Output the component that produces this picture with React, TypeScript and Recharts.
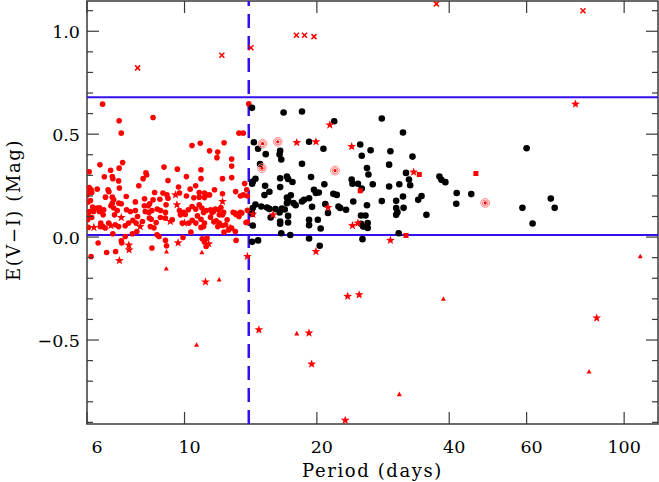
import { ScatterChart, Scatter, XAxis, YAxis, ReferenceLine, ReferenceArea } from 'recharts';

// period (days), E(V-I) (mag)
const xTicks = [6, 10, 20, 40, 60, 100];
const yTicks = [-0.9, -0.8, -0.7, -0.6, -0.5, -0.4, -0.3, -0.2, -0.1, 0, 0.1, 0.2, 0.3, 0.4, 0.5, 0.6, 0.7, 0.8, 0.9, 1.0, 1.1];

const redDots: [number, number][] = [
  [6.51, 0.646], [8.48, 0.581], [7.1, 0.565], [7.18, 0.505], [14.0, 0.647], [13.3, 0.505], [13.6, 0.505],
  [10.4, 0.445], [10.86, 0.456], [12.3, 0.458], [11.4, 0.419], [11.9, 0.413], [11.85, 0.386], [12.8, 0.379],
  [7.23, 0.362], [6.42, 0.351], [8.98, 0.34], [9.63, 0.33], [7.1, 0.335], [6.79, 0.325], [6.07, 0.317],
  [8.17, 0.312], [8.2, 0.302], [10.9, 0.327], [12.8, 0.345], [6.57, 0.293], [6.85, 0.294], [6.87, 0.284],
  [8.05, 0.284], [10.1, 0.294], [9.17, 0.275], [10.9, 0.284], [12.2, 0.284], [12.8, 0.289], [7.08, 0.273],
  [9.69, 0.243], [10.6, 0.249], [6.07, 0.241], [6.13, 0.23], [6.07, 0.217], [6.15, 0.217], [6.0, 0.205],
  [6.33, 0.233], [6.7, 0.23], [6.73, 0.22], [7.11, 0.238], [7.87, 0.249], [8.55, 0.217], [8.93, 0.214],
  [9.12, 0.205], [9.74, 0.214], [10.3, 0.233], [10.8, 0.217], [11.1, 0.214], [11.2, 0.205], [11.7, 0.23],
  [11.4, 0.205], [13.07, 0.221], [13.6, 0.205], [6.61, 0.194], [6.85, 0.194], [6.9, 0.181], [7.37, 0.197],
  [8.11, 0.186], [7.73, 0.171], [8.48, 0.181], [8.79, 0.184], [9.17, 0.189], [10.1, 0.2], [10.5, 0.191],
  [10.8, 0.194], [11.1, 0.192], [12.2, 0.21], [13.4, 0.2], [6.11, 0.178], [6.03, 0.17], [6.18, 0.146],
  [6.33, 0.141], [6.08, 0.124], [6.21, 0.124], [6.06, 0.1], [6.15, 0.095], [6.02, 0.084], [6.41, 0.142],
  [6.4, 0.124], [6.55, 0.133], [6.53, 0.108], [6.8, 0.152], [6.85, 0.165], [6.9, 0.141], [7.09, 0.165],
  [7.18, 0.162], [7.03, 0.129], [6.93, 0.108], [7.38, 0.133], [7.53, 0.124], [7.73, 0.129], [7.82, 0.1],
  [8.1, 0.152], [8.27, 0.152], [8.33, 0.162], [8.14, 0.124], [8.3, 0.12], [8.43, 0.129], [8.32, 0.092],
  [8.4, 0.087], [8.67, 0.136], [8.82, 0.129], [9.05, 0.12], [9.08, 0.157], [9.38, 0.084], [9.74, 0.129],
  [9.95, 0.12], [10.04, 0.11], [10.2, 0.133], [10.4, 0.149], [10.6, 0.136], [10.8, 0.157], [10.95, 0.141],
  [11.05, 0.12], [11.2, 0.129], [11.46, 0.133], [11.55, 0.12], [10.7, 0.103], [10.9, 0.087], [11.1, 0.068],
  [11.75, 0.136], [12.1, 0.144], [12.0, 0.108], [12.2, 0.108], [12.5, 0.084], [12.0, 0.068], [12.2, 0.056],
  [12.9, 0.12], [13.1, 0.11], [13.3, 0.1], [13.5, 0.117],
  [6.04, 0.047], [6.36, -0.029], [6.13, -0.094], [6.65, -0.075], [6.97, -0.07], [7.18, -0.018], [7.2, -0.029],
  [6.87, 0.016], [7.61, 0.016], [7.79, 0.027], [7.33, 0.003], [8.43, -0.053], [8.66, 0.011], [8.75, 0.003],
  [8.36, 0.051], [8.52, 0.045], [9.05, -0.016], [9.1, -0.042], [9.92, -0.002], [10.34, 0.024], [10.9, 0.047],
  [10.97, -0.008], [11.1, -0.024], [11.2, -0.046], [11.8, 0.079], [11.9, 0.051], [12.3, 0.024], [13.05, 0.027],
  [11.64, 0.124], [11.95, 0.133], [12.27, 0.12], [13.04, 0.117], [13.8, 0.071], [12.6, 0.035], [12.8, 0.044],
  [11.05, 0.051], [12.4, 0.06], [13.1, -0.016], [11.25, -0.005],
  [13.7, 0.26], [13.85, 0.23], [13.9, 0.2], [13.4, 0.12], [13.9, 0.13], [13.9, 0.073],
  [6.43, 0.051], [6.52, 0.051], [6.45, 0.068], [6.6, 0.044], [6.72, 0.068], [6.96, 0.06], [7.08, 0.051],
  [7.33, 0.055], [7.46, 0.068], [7.63, 0.081], [7.76, 0.068], [8.02, 0.076], [8.62, 0.071], [8.81, 0.095],
  [9.04, 0.092], [9.79, 0.108], [9.88, 0.068], [10.23, 0.068], [10.41, 0.081], [10.61, 0.068], [11.46, 0.097],
  [11.66, 0.074],
];

const blackDots: [number, number][] = [
  [14.24, 0.628], [16.8, 0.605], [18.5, 0.61], [21.9, 0.563], [28.1, 0.576], [31.4, 0.508], [14.38, 0.461],
  [14.7, 0.429], [16.5, 0.419], [16.45, 0.401], [16.6, 0.377], [15.3, 0.403], [19.2, 0.463], [20.7, 0.429],
  [25.1, 0.45], [25.3, 0.395], [26.5, 0.422], [29.4, 0.417], [33.0, 0.391], [18.5, 0.356], [14.85, 0.355],
  [26.0, 0.336], [26.2, 0.304], [29.2, 0.352], [31.9, 0.312], [32.4, 0.28], [32.6, 0.252], [14.5, 0.283],
  [14.3, 0.27], [14.25, 0.259], [16.5, 0.286], [17.1, 0.294], [17.2, 0.282], [17.6, 0.268], [19.4, 0.292],
  [24.0, 0.28], [24.1, 0.259], [24.8, 0.259], [26.8, 0.257], [29.2, 0.246], [30.8, 0.257], [15.25, 0.249],
  [16.5, 0.243], [20.8, 0.257], [25.3, 0.236], [38.0, 0.294], [38.4, 0.278], [39.2, 0.267], [41.6, 0.214],
  [41.5, 0.162], [15.2, 0.204], [15.6, 0.22], [17.1, 0.192], [17.45, 0.203], [19.7, 0.23], [19.9, 0.214],
  [20.2, 0.217], [21.8, 0.21], [22.2, 0.205], [31.4, 0.197], [30.3, 0.176], [34.6, 0.2], [34.0, 0.181],
  [17.2, 0.178], [17.1, 0.165], [17.7, 0.165], [17.9, 0.155], [18.5, 0.173], [18.7, 0.181], [19.2, 0.189],
  [19.5, 0.147], [20.9, 0.16], [21.2, 0.117], [22.4, 0.149], [22.6, 0.141], [23.3, 0.133], [24.2, 0.173],
  [26.0, 0.155], [28.1, 0.175], [30.3, 0.141], [30.5, 0.121], [30.3, 0.108], [31.5, 0.142], [35.5, 0.108],
  [14.5, 0.158], [14.3, 0.141], [14.95, 0.149], [15.4, 0.144], [15.6, 0.137], [16.1, 0.136], [16.45, 0.12],
  [16.65, 0.139], [16.9, 0.134], [15.7, 0.095], [16.5, 0.076], [16.5, 0.065], [17.2, 0.103], [17.2, 0.071],
  [19.2, 0.084], [19.2, 0.058], [20.1, 0.084], [20.4, 0.042], [25.2, 0.105], [25.8, 0.105], [25.2, 0.065],
  [25.5, 0.051], [26.1, 0.044], [26.1, 0.068], [14.3, 0.056], [16.6, 0.019], [17.4, 0.01], [19.2, -0.007],
  [20.3, -0.042], [25.4, -0.01], [30.7, 0.019], [14.25, -0.023], [14.7, -0.016], [14.25, 0.113],
  [60.0, 0.432], [44.9, 0.209], [58.7, 0.142], [61.9, 0.066], [68.1, 0.187], [69.5, 0.142],
];

const stars: [number, number][] = [
  [9.54, 0.205], [9.28, 0.076], [9.61, 0.157], [10.0, 0.068], [12.2, 0.173], [12.7, 0.045], [6.22, 0.047],
  [6.8, 0.056], [7.18, 0.095], [7.93, 0.051], [7.47, -0.039], [7.48, -0.062], [7.11, -0.114], [9.67, -0.028],
  [11.35, -0.033], [13.9, -0.094], [11.16, -0.218], [14.76, -0.45], [19.19, -0.466], [19.46, -0.617],
  [23.5, -0.288], [24.96, -0.28], [23.2, -0.89], [86.6, -0.393], [19.9, -0.07], [21.4, 0.545], [18.0, 0.459],
  [19.9, 0.463], [24.0, 0.44], [33.2, 0.316], [21.2, 0.144], [15.9, 0.108], [14.3, 0.111], [24.1, 0.056],
  [24.8, 0.068], [29.4, -0.016], [77.5, 0.646],
];

const triangles: [number, number][] = [
  [9.09, -0.154], [11.99, -0.207], [10.65, -0.524], [18.0, -0.469], [30.8, -0.764], [38.8, -0.301],
  [83.2, -0.654], [108.8, -0.094], [9.1, -0.071], [10.95, -0.075],
];

const crosses: [number, number][] = [
  [7.82, 0.822], [12.16, 0.883], [14.16, 0.92], [17.97, 0.981], [18.75, 0.981], [19.7, 0.974], [37.4, 1.133],
  [80.6, 1.1],
];

const squares: [number, number][] = [[34.2, 0.304], [25.1, 0.225], [31.9, 0.008], [46.0, 0.309]];

const rings: [number, number][] = [[15.05, 0.454], [16.3, 0.463], [15.0, 0.335], [22.0, 0.323], [48.3, 0.166]];

const upperLimit = 0.68;
const lowerLimit = 0.01;
const periodCut = 14;
const xDomain = [6, 119.4];
const yDomain = [-0.908, 1.147];

const PLOT = { left: 87, right: 658, top: 1, bottom: 424 };
const RED = '#ff0000';
const BLUE = '#3311ee';
const AXIS = '#3a3a3a';
const FONT = 'DejaVu Serif';

const pts = (arr: [number, number][]) => arr.map(([period, ev]) => ({ period, ev }));

const redShape = (p: any) => <circle cx={p.cx} cy={p.cy} r={2.8} fill={RED} />;
const blackShape = (p: any) => <circle cx={p.cx} cy={p.cy} r={3.3} fill="#000" />;

const starShape = (p: any) => {
  let d = '';
  for (let i = 0; i < 10; i++) {
    const a = -Math.PI / 2 + (i * Math.PI) / 5;
    const rad = i % 2 === 0 ? 4.6 : 1.9;
    d += (i ? 'L' : 'M') + (p.cx + rad * Math.cos(a)).toFixed(2) + ',' + (p.cy + rad * Math.sin(a)).toFixed(2);
  }
  return <path d={d + 'Z'} fill={RED} />;
};

const triShape = (p: any) => (
  <path d={`M${p.cx},${p.cy - 2.8}L${p.cx + 2.5},${p.cy + 1.8}L${p.cx - 2.5},${p.cy + 1.8}Z`} fill={RED} />
);

const crossShape = (p: any) => (
  <g stroke={RED} strokeWidth={1.5}>
    <line x1={p.cx - 2.5} y1={p.cy - 2.5} x2={p.cx + 2.5} y2={p.cy + 2.5} />
    <line x1={p.cx - 2.5} y1={p.cy + 2.5} x2={p.cx + 2.5} y2={p.cy - 2.5} />
  </g>
);

const squareShape = (p: any) => <rect x={p.cx - 2.5} y={p.cy - 2.5} width={5} height={5} fill={RED} />;

const ringShape = (p: any) => (
  <g>
    <circle cx={p.cx} cy={p.cy} r={4.4} fill="none" stroke="#ff8c8c" strokeWidth={1} />
    <circle cx={p.cx} cy={p.cy} r={2.9} fill="none" stroke="#ff6060" strokeWidth={0.9} />
    <circle cx={p.cx} cy={p.cy} r={1.6} fill={RED} />
  </g>
);

const labelShift: Record<number, number> = { 6: 10, 100: 0 };

const XTick = (props: any) => {
  const { x, payload } = props;
  const dx = labelShift[payload.value] ?? 5;
  return (
    <g>
      <line x1={x} x2={x} y1={PLOT.bottom} y2={PLOT.bottom - 12} stroke={AXIS} strokeWidth={1.2} />
      <line x1={x} x2={x} y1={PLOT.top} y2={PLOT.top + 12} stroke={AXIS} strokeWidth={1.2} />
      <text x={x + dx} y={453} textAnchor="middle" fontFamily={FONT} fontSize={17.5} fill="#000">
        {payload.value}
      </text>
    </g>
  );
};

const YTick = (props: any) => {
  const { y, payload } = props;
  const v = payload.value;
  const major = Math.abs(v * 2 - Math.round(v * 2)) < 1e-6;
  const len = major ? 12 : 6;
  const label = v < 0 ? '\u2212' + Math.abs(v).toFixed(1) : v.toFixed(1);
  return (
    <g>
      <line x1={PLOT.left} x2={PLOT.left + len} y1={y} y2={y} stroke={AXIS} strokeWidth={1.2} />
      <line x1={PLOT.right - len} x2={PLOT.right} y1={y} y2={y} stroke={AXIS} strokeWidth={1.2} />
      {major && (
        <text x={80} y={y + 6.5} textAnchor="end" fontFamily={FONT} fontSize={17.5} fill="#000">
          {label}
        </text>
      )}
    </g>
  );
};

const Title = ({ tx, ty, text, rotate }: any) => (
  <text
    x={tx}
    y={ty}
    textAnchor="middle"
    fontFamily={FONT}
    fontSize={18}
    letterSpacing={1.6}
    fill="#000"
    transform={rotate ? `rotate(-90 ${tx} ${ty})` : undefined}
  >
    {text}
  </text>
);

export default function App() {
  return (
    <div style={{ position: 'absolute', left: 0, top: 0, width: 659, height: 482, background: '#fff' }}>
      <ScatterChart width={659} height={482} margin={{ top: 1, right: 1, left: 0, bottom: 0 }}>
        <XAxis
          type="number"
          dataKey="period"
          scale="log"
          domain={xDomain}
          allowDataOverflow
          ticks={xTicks}
          interval={0}
          height={58}
          axisLine={false}
          tickLine={false}
          tickSize={0}
          tick={<XTick />}
          label={<Title tx={372.5} ty={477} text="Period (days)" />}
        />
        <YAxis
          type="number"
          dataKey="ev"
          domain={yDomain}
          allowDataOverflow
          ticks={yTicks}
          interval={0}
          width={87}
          axisLine={false}
          tickLine={false}
          tickSize={0}
          tick={<YTick />}
          label={<Title tx={20} ty={210} text="E(V−I) (Mag)" rotate />}
        />
        <ReferenceArea
          x1={xDomain[0]}
          x2={xDomain[1]}
          y1={yDomain[0]}
          y2={yDomain[1]}
          fill="none"
          stroke={AXIS}
          strokeWidth={1.5}
          ifOverflow="visible"
        />
        <Scatter data={pts(redDots)} shape={redShape} isAnimationActive={false} />
        <Scatter data={pts(blackDots)} shape={blackShape} isAnimationActive={false} />
        <Scatter data={pts(squares)} shape={squareShape} isAnimationActive={false} />
        <Scatter data={pts(rings)} shape={ringShape} isAnimationActive={false} />
        <Scatter data={pts(triangles)} shape={triShape} isAnimationActive={false} />
        <Scatter data={pts(stars)} shape={starShape} isAnimationActive={false} />
        <Scatter data={pts(crosses)} shape={crossShape} isAnimationActive={false} />
        <ReferenceLine y={upperLimit} stroke={BLUE} strokeWidth={2} />
        <ReferenceLine y={lowerLimit} stroke={BLUE} strokeWidth={2} />
        <ReferenceLine x={periodCut} stroke={BLUE} strokeWidth={2.5} strokeDasharray="14 8" />
      </ScatterChart>
    </div>
  );
}
